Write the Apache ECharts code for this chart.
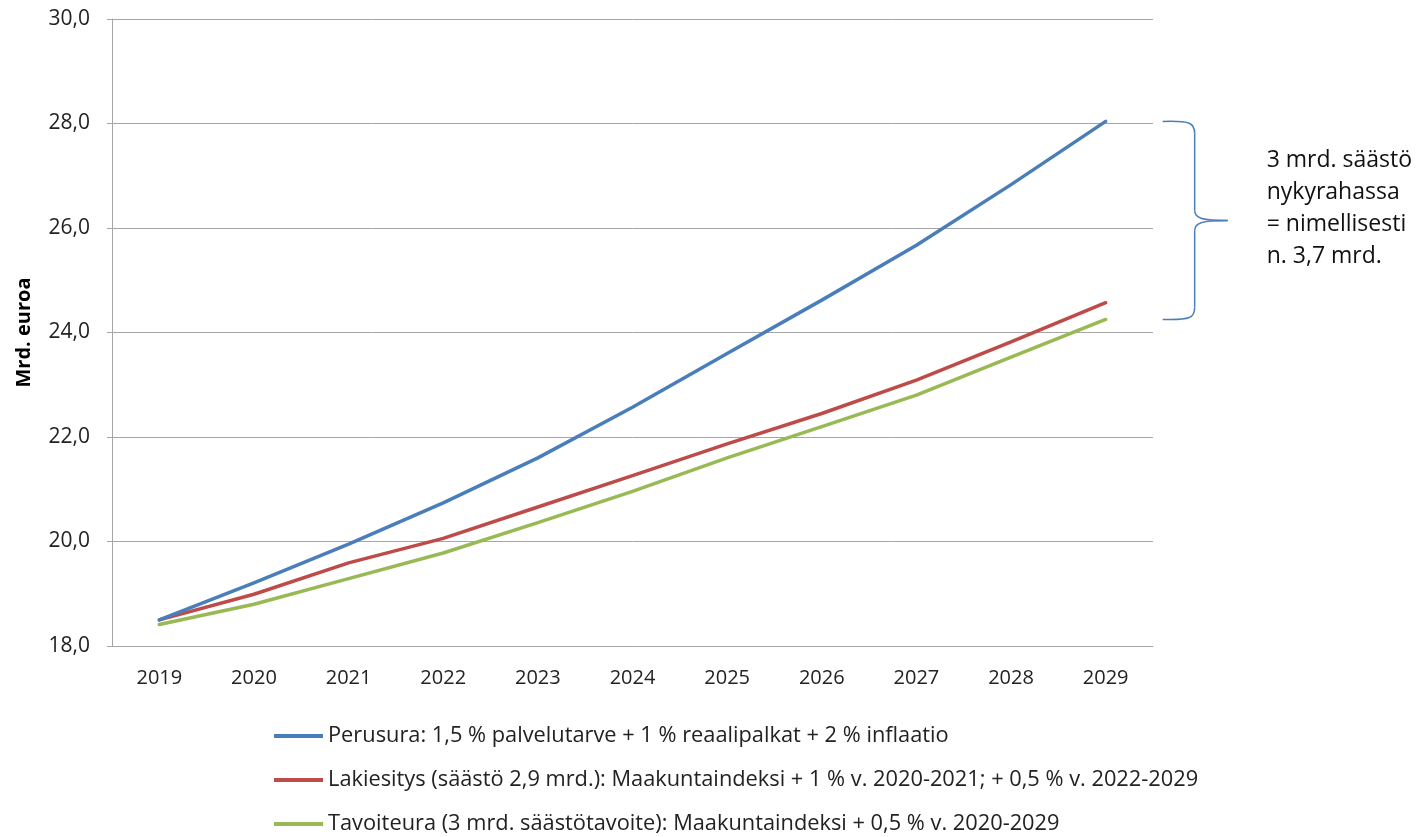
<!DOCTYPE html>
<html>
<head>
<meta charset="utf-8">
<script src="https://cdn.jsdelivr.net/npm/echarts@6/dist/echarts.min.js"></script>
<style>
html,body{margin:0;padding:0;background:#fff;}
#chart{width:1422px;height:837px;}
</style>
</head>
<body>
<div id="chart"></div>
<script>
const years = ['2019','2020','2021','2022','2023','2024','2025','2026','2027','2028','2029'];
const perusura = [18.50, 19.21, 19.95, 20.74, 21.60, 22.57, 23.60, 24.62, 25.67, 26.83, 28.04];
const lakiesitys = [18.50, 18.99, 19.59, 20.06, 20.66, 21.26, 21.87, 22.45, 23.09, 23.82, 24.57];
const tavoiteura = [18.41, 18.80, 19.29, 19.78, 20.36, 20.96, 21.60, 22.20, 22.80, 23.53, 24.25];
const seriesNames = [
  'Perusura: 1,5 % palvelutarve + 1 % reaalipalkat + 2 % inflaatio',
  'Lakiesitys (säästö 2,9 mrd.): Maakuntaindeksi + 1 % v. 2020-2021; + 0,5 % v. 2022-2029',
  'Tavoiteura (3 mrd. säästötavoite): Maakuntaindeksi + 0,5 % v. 2020-2029'
];
const yTicks = {min: 18, max: 30, interval: 2};
const axisTitle = 'Mrd. euroa';
const noteLines = ['3 mrd. säästö', 'nykyrahassa', '= nimellisesti', 'n. 3,7 mrd.'];
const colors = ['#4a7ebb', '#be4b48', '#98b954'];

const FONT = '"Open Sans", Lato, sans-serif';
const chart = echarts.init(document.getElementById('chart'), null, {renderer: 'canvas'});

const seriesData = [perusura, lakiesitys, tavoiteura];
const option = {
  animation: false,
  backgroundColor: '#fff',
  grid: {left: 112, right: 269, top: 19, bottom: 191, containLabel: false},
  legend: {
    orient: 'vertical',
    left: 274,
    top: 724,
    padding: 0,
    itemWidth: 49,
    itemHeight: 4,
    itemGap: 20,
    icon: 'rect',
    textStyle: {fontFamily: FONT, fontSize: 21.8, color: '#222', lineHeight: 24},
    data: seriesNames
  },
  xAxis: {
    type: 'category',
    data: years,
    boundaryGap: true,
    axisLine: {lineStyle: {color: '#a6a6a6', width: 1}},
    axisTick: {show: false},
    axisLabel: {fontFamily: FONT, fontSize: 20, color: '#222', margin: 22}
  },
  yAxis: {
    type: 'value',
    min: yTicks.min,
    max: yTicks.max,
    interval: yTicks.interval,
    name: axisTitle,
    nameLocation: 'middle',
    nameGap: 78,
    nameRotate: 90,
    nameTextStyle: {fontFamily: FONT, fontSize: 20, fontWeight: 'bold', color: '#000'},
    axisLine: {show: true, lineStyle: {color: '#a6a6a6', width: 1}},
    axisTick: {show: true, length: 5, lineStyle: {color: '#a6a6a6'}},
    splitLine: {lineStyle: {color: '#a6a6a6', width: 1}},
    axisLabel: {
      fontFamily: FONT, fontSize: 21, color: '#222', margin: 22,
      formatter: v => v.toFixed(1).replace('.', ',')
    }
  },
  series: seriesData.map((d, i) => ({
    name: seriesNames[i],
    type: 'line',
    data: d,
    smooth: false,
    symbol: 'none',
    z: 10 - i,
    lineStyle: {color: colors[i], width: 3.5, cap: 'round', join: 'round'},
    itemStyle: {color: colors[i]}
  }))
};
chart.setOption(option);

// brace annotation positioned from data via the chart's scales
const last = years.length - 1;
const pTop = chart.convertToPixel({gridIndex: 0}, [last, perusura[last]]);
const pBot = chart.convertToPixel({gridIndex: 0}, [last, tavoiteura[last]]);
const xEnd = pTop[0], yTop = pTop[1], yBot = pBot[1];
const yMid = (yTop + yBot) / 2;
const xL = xEnd + 57, xV = xEnd + 89, xT = xEnd + 122;
const braceStyle = {stroke: '#4a7ebb', lineWidth: 1.5, fill: null};
const bz = (x1, y1, cx1, cy1, cx2, cy2, x2, y2) => ({
  type: 'bezierCurve', silent: true,
  shape: {x1: x1, y1: y1, cpx1: cx1, cpy1: cy1, cpx2: cx2, cpy2: cy2, x2: x2, y2: y2},
  style: braceStyle
});
const ln = (x1, y1, x2, y2) => ({
  type: 'line', silent: true,
  shape: {x1: x1, y1: y1, x2: x2, y2: y2},
  style: braceStyle
});
chart.setOption({
  graphic: [
    bz(xL, yTop, xV - 4, yTop - 1, xV, yTop + 2, xV, yTop + 12),
    ln(xV, yTop + 12, xV, yMid - 10),
    bz(xV, yMid - 10, xV, yMid - 2, xV + 8, yMid, xT, yMid),
    bz(xT, yMid, xV + 8, yMid, xV, yMid + 2, xV, yMid + 10),
    ln(xV, yMid + 10, xV, yBot - 12),
    bz(xV, yBot - 12, xV, yBot - 2, xV - 4, yBot + 1, xL, yBot),
    {
      type: 'text',
      x: xEnd + 161,
      y: yMid - 12,
      silent: true,
      style: {
        text: noteLines.join('\n'),
        font: '23px ' + FONT,
        fill: '#111',
        lineHeight: 32,
        align: 'left',
        verticalAlign: 'middle'
      }
    }
  ]
});
</script>
</body>
</html>
